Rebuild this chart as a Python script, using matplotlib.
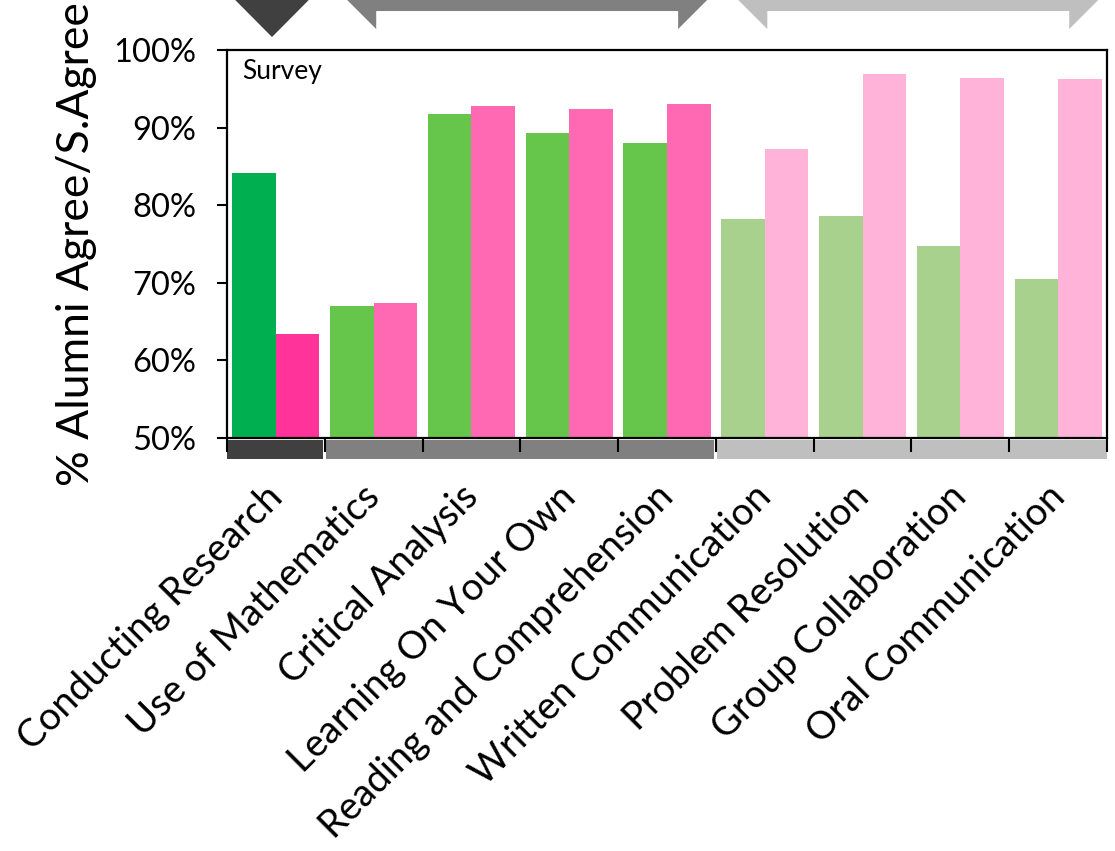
import numpy as np
import matplotlib
matplotlib.use("Agg")
import matplotlib.pyplot as plt
from matplotlib.patches import Polygon, Rectangle
import matplotlib.transforms as mtransforms

plt.rcParams['font.family'] = ['Lato', 'DejaVu Sans']

# data
categories = ["Conducting Research", "Use of Mathematics", "Critical Analysis",
              "Learning On Your Own", "Reading and Comprehension",
              "Written Communication", "Problem Resolution",
              "Group Collaboration", "Oral Communication"]
green_vals = [84.1, 67.0, 91.8, 89.3, 88.0, 78.2, 78.6, 74.7, 70.5]
pink_vals = [63.4, 67.4, 92.8, 92.4, 93.0, 87.2, 96.9, 96.4, 96.3]
group_of = [0, 1, 1, 1, 1, 2, 2, 2, 2]
yticks = [50, 60, 70, 80, 90, 100]

green_cols = ["#00B050", "#66C64C", "#A9D18E"]
pink_cols = ["#FF3399", "#FF69B4", "#FFB3D9"]
band_cols = ["#404040", "#808080", "#BFBFBF"]

fig = plt.figure(figsize=(11.15, 8.51), dpi=100)
ax = fig.add_axes([0.2036, 0.4853, 0.7892, 0.4559])

x = np.arange(len(categories))
w = 0.445
for i in x:
    g = group_of[i]
    ax.bar(i - w / 2, green_vals[i] - 50, bottom=50, width=w, color=green_cols[g], zorder=2)
    ax.bar(i + w / 2, pink_vals[i] - 50, bottom=50, width=w, color=pink_cols[g], zorder=2)

ax.set_xlim(-0.5, len(categories) - 0.5)
ax.set_ylim(50, 100)
ax.set_yticks(yticks)
ax.set_yticklabels([f"{v}%" for v in yticks], fontsize=23.5)
ax.tick_params(axis='y', length=7, width=1.5, direction='out', pad=15)

ax.set_xticks(x)
ax.set_xticklabels(categories, rotation=45, ha='right', rotation_mode='anchor',
                   fontsize=27.5)
ax.tick_params(axis='x', which='major', length=0, pad=30)
ax.set_xticks(np.arange(-0.5, len(categories)), minor=True)
ax.tick_params(axis='x', which='minor', length=10, width=1.5, direction='out')
# nudge the slanted labels a bit left
shift = mtransforms.ScaledTranslation(-12 / 100, 1 / 100, fig.dpi_scale_trans)
for lbl in ax.get_xticklabels():
    lbl.set_transform(lbl.get_transform() + shift)

for s in ax.spines.values():
    s.set_linewidth(1.6)
    s.set_color("black")

ax.set_ylabel("% Alumni Agree/S.Agree", fontsize=32, labelpad=12)
ax.text(0.017, 0.978, "Survey", transform=ax.transAxes, fontsize=19,
        va='top', ha='left')

trans = mtransforms.blended_transform_factory(ax.transData, ax.transAxes)

# colored bands under the x axis
px_x = 1 / 97.8   # one pixel in category units
px_y = 1 / 388.0  # one pixel in axes fraction
groups = [(0, 0), (1, 4), (5, 8)]
for gi, (a, b) in enumerate(groups):
    x0 = a - 0.5 + (1.5 * px_x if gi > 0 else 0)
    x1 = b + 0.5 - (1.5 * px_x if gi < 2 else 0)
    ax.add_patch(Rectangle((x0, -21 * px_y), x1 - x0, 19 * px_y, transform=trans,
                           color=band_cols[gi], clip_on=False, zorder=1, lw=0))

# arrows on top
top = 438 * px_y
ext = 30  # extend beyond figure top (pixels)
# single triangle for first group
c = -0.04
hw = 36.5 * px_x
tip = (438 - 37) * px_y
ax.add_patch(Polygon([(c - hw - ext * px_x, top + ext * px_y),
                      (c + hw + ext * px_x, top + ext * px_y),
                      (c, tip)], closed=True, transform=trans,
                     color=band_cols[0], clip_on=False, lw=0))

# bracket arrows for the other groups
for gi, (a, b) in [(1, groups[1]), (2, groups[2])]:
    c = (a + b) / 2 + 0.07
    ho = 180 * px_x
    hi = 151 * px_x
    leg = (438 - 29) * px_y
    notch = (438 - 11) * px_y
    pts = [(c - ho - ext * px_x, top + ext * px_y),
           (c + ho + ext * px_x, top + ext * px_y),
           (c + hi, leg), (c + hi, notch), (c - hi, notch), (c - hi, leg)]
    ax.add_patch(Polygon(pts, closed=True, transform=trans, color=band_cols[gi],
                         clip_on=False, lw=0))

plt.savefig("out.png", dpi=100)
plt.close()
